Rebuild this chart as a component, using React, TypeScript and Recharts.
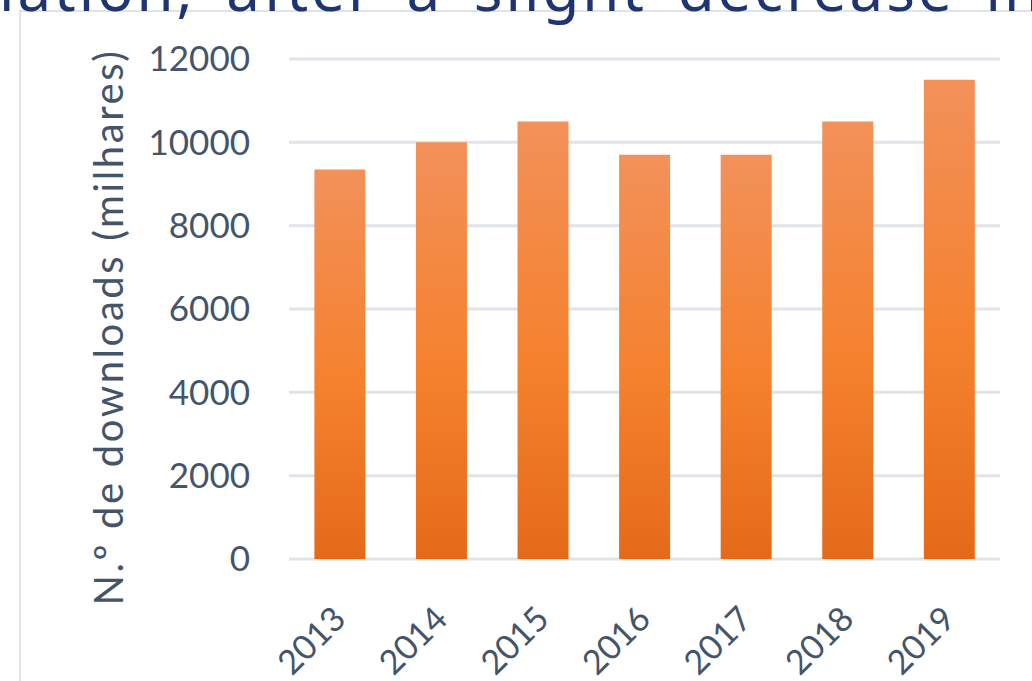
import { Bar, BarChart, CartesianGrid, XAxis, YAxis } from "recharts";

const years = ["2013", "2014", "2015", "2016", "2017", "2018", "2019"];
const downloads = [9350, 10000, 10500, 9700, 9700, 10500, 11500];
const yTicks = [0, 2000, 4000, 6000, 8000, 10000, 12000];

const data = years.map((year, i) => ({ year, downloads: downloads[i] }));

const TEXT = "#44546A";
const GRID = "#DFE3EA";
const FONT = "Lato, 'Noto Sans', sans-serif";

function YearTick({ x, y, payload }: any) {
  return (
    <g transform={`translate(${x + 8},${y + 54})`}>
      <text
        x={0}
        y={0}
        textAnchor="end"
        transform="rotate(-45)"
        fill={TEXT}
        fontSize={34}
        fontFamily={FONT}
      >
        {payload.value}
      </text>
    </g>
  );
}

function AxisTitle({ viewBox }: any) {
  const cx = viewBox.x + 108;
  const cy = viewBox.y + viewBox.height / 2 + 18;
  return (
    <text
      x={cx}
      y={cy}
      transform={`rotate(-90 ${cx} ${cy})`}
      textAnchor="middle"
      dominantBaseline="central"
      fill={TEXT}
      fontSize={40}
      letterSpacing={2.6}
      fontFamily={FONT}
    >
      N.º de downloads (milhares)
    </text>
  );
}

export default function App() {
  return (
    <div
      style={{
        position: "fixed",
        left: 0,
        top: 0,
        width: 1032,
        height: 681,
        overflow: "hidden",
        background: "#fff",
      }}
    >
      <div
        style={{
          position: "absolute",
          left: 19,
          top: 10,
          right: 0,
          bottom: 0,
          borderLeft: `2px solid ${GRID}`,
          borderTop: `2px solid ${GRID}`,
        }}
      />
      <svg
        width={1032}
        height={40}
        style={{ position: "absolute", left: 0, top: 0 }}
      >
        <text
          x={1044}
          y={11}
          textAnchor="end"
          fill="#1F3573"
          fontSize={60}
          letterSpacing={3}
          wordSpacing={12}
          fontFamily="'Noto Sans', sans-serif"
        >
          population, after a slight decrease in
        </text>
      </svg>
      <div style={{ position: "absolute", left: 0, top: 0 }}>
        <BarChart
          width={1032}
          height={681}
          data={data}
          margin={{ top: 59, right: 32, bottom: 0, left: 0 }}
          barCategoryGap="25%"
        >
          <defs>
            <linearGradient id="barFill" x1="0" y1="0" x2="0" y2="1">
              <stop offset="0%" stopColor="#F2915A" />
              <stop offset="55%" stopColor="#F5812D" />
              <stop offset="100%" stopColor="#E46A19" />
            </linearGradient>
          </defs>
          <CartesianGrid vertical={false} stroke={GRID} strokeWidth={3} />
          <XAxis
            dataKey="year"
            axisLine={false}
            tickLine={false}
            interval={0}
            tick={<YearTick />}
            height={122}
          />
          <YAxis
            width={289}
            domain={[0, 12000]}
            ticks={yTicks}
            axisLine={false}
            tickLine={false}
            tickSize={0}
            tickMargin={39}
            tick={{ fill: TEXT, fontSize: 35, fontFamily: FONT }}
            label={{ content: AxisTitle }}
          />
          <Bar dataKey="downloads" fill="url(#barFill)" isAnimationActive={false} />
        </BarChart>
      </div>
    </div>
  );
}
